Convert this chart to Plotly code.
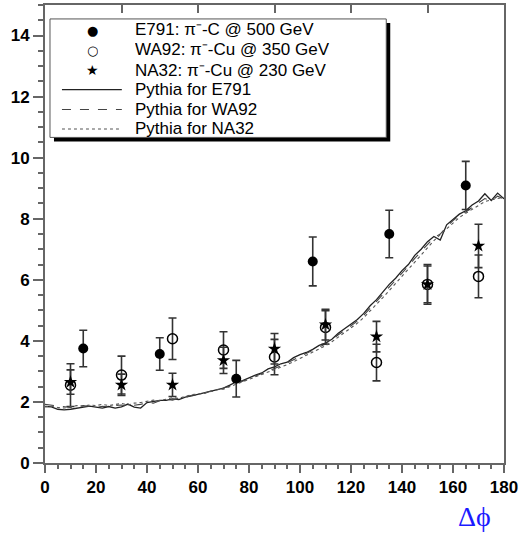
import numpy as np
import plotly.graph_objects as go

# ---- data points ----
e791_x = [15, 45, 75, 105, 135, 165]
e791_y = [3.75, 3.57, 2.76, 6.60, 7.50, 9.09]
e791_err = [0.60, 0.53, 0.60, 0.80, 0.78, 0.79]

wa92_x = [10, 30, 50, 70, 90, 110, 130, 150, 170]
wa92_y = [2.55, 2.88, 4.07, 3.70, 3.47, 4.44, 3.29, 5.85, 6.11]
wa92_err = [0.70, 0.62, 0.68, 0.60, 0.58, 0.55, 0.60, 0.65, 0.70]

na32_x = [10, 30, 50, 70, 90, 110, 130, 150, 170]
na32_y = [2.65, 2.56, 2.56, 3.36, 3.74, 4.53, 4.14, 5.85, 7.11]
na32_err = [0.40, 0.35, 0.38, 0.43, 0.50, 0.50, 0.50, 0.60, 0.71]

# ---- Pythia curves (read every 2.5 units of delta phi) ----
pyth_x = list(np.arange(0, 180.01, 2.5))
pyth_e791 = [1.85, 1.84, 1.76, 1.74, 1.76, 1.80, 1.82, 1.86, 1.83, 1.80, 1.85, 1.80, 1.84,
             1.93, 1.83, 1.80, 1.98, 2.02, 2.05, 2.05, 2.10, 2.08, 2.16, 2.20, 2.25, 2.30,
             2.33, 2.38, 2.45, 2.55, 2.66, 2.70, 2.80, 2.88, 2.95, 3.08, 3.15, 3.25, 3.30,
             3.45, 3.55, 3.62, 3.72, 3.85, 3.93, 4.05, 4.25, 4.40, 4.52, 4.70, 4.90, 5.15,
             5.35, 5.60, 5.85, 6.05, 6.30, 6.50, 6.80, 7.00, 7.25, 7.42, 7.30, 7.80, 7.98,
             8.15, 8.26, 8.45, 8.58, 8.82, 8.60, 8.84, 8.65]
pyth_wa92 = [1.92, 1.90, 1.88, 1.84, 1.82, 1.84, 1.88, 1.85, 1.82, 1.86, 1.84, 1.88, 1.90,
             1.86, 1.88, 1.92, 1.98, 1.96, 2.04, 2.08, 2.06, 2.12, 2.15, 2.22, 2.22, 2.30,
             2.36, 2.35, 2.46, 2.52, 2.62, 2.68, 2.76, 2.84, 2.92, 3.02, 3.10, 3.18, 3.28,
             3.38, 3.50, 3.58, 3.68, 3.80, 3.90, 4.02, 4.20, 4.34, 4.48, 4.65, 4.84, 5.06,
             5.28, 5.52, 5.76, 5.98, 6.22, 6.45, 6.70, 6.92, 7.15, 7.38, 7.50, 7.74, 7.94,
             8.10, 8.22, 8.38, 8.52, 8.66, 8.58, 8.74, 8.64]
pyth_na32 = [1.84, 1.86, 1.82, 1.80, 1.84, 1.88, 1.86, 1.90, 1.88, 1.92, 1.88, 1.92, 1.95,
             1.90, 1.96, 1.98, 2.02, 2.06, 2.04, 2.10, 2.14, 2.12, 2.18, 2.24, 2.26, 2.28,
             2.34, 2.40, 2.42, 2.50, 2.58, 2.64, 2.72, 2.80, 2.88, 2.96, 3.04, 3.12, 3.22,
             3.32, 3.42, 3.52, 3.62, 3.72, 3.84, 3.97, 4.12, 4.27, 4.42, 4.58, 4.76, 4.97,
             5.18, 5.42, 5.65, 5.88, 6.12, 6.35, 6.60, 6.82, 7.05, 7.28, 7.48, 7.66, 7.86,
             8.04, 8.18, 8.30, 8.44, 8.56, 8.62, 8.66, 8.70]

names = ["E791: π⁻-C @ 500 GeV", "WA92: π⁻-Cu @ 350 GeV",
         "NA32: π⁻-Cu @ 230 GeV", "Pythia for E791", "Pythia for WA92",
         "Pythia for NA32"]
legend_glyphs = ["●", "○", "★"]

ecol = "#333333"
fig = go.Figure()

fig.add_trace(go.Scatter(x=pyth_x, y=pyth_e791, mode="lines", name=names[3],
                         line=dict(color="#222222", width=1.3)))
fig.add_trace(go.Scatter(x=pyth_x, y=pyth_wa92, mode="lines", name=names[4],
                         line=dict(color="#444444", width=1.1, dash="dash")))
fig.add_trace(go.Scatter(x=pyth_x, y=pyth_na32, mode="lines", name=names[5],
                         line=dict(color="#555555", width=1.1, dash="dot"), xaxis="x2"))

fig.add_trace(go.Scatter(x=wa92_x, y=wa92_y, mode="markers", name=names[1],
                         marker=dict(symbol="circle-open", size=10, color="black",
                                     line=dict(width=1.5, color="black")),
                         error_y=dict(type="data", array=wa92_err, color=ecol,
                                      thickness=1.6, width=4)))
fig.add_trace(go.Scatter(x=na32_x, y=na32_y, mode="markers", name=names[2],
                         marker=dict(symbol="star", size=10, color="black"),
                         error_y=dict(type="data", array=na32_err, color=ecol,
                                      thickness=1.6, width=4)))
fig.add_trace(go.Scatter(x=e791_x, y=e791_y, mode="markers", name=names[0],
                         marker=dict(symbol="circle", size=10, color="black"),
                         error_y=dict(type="data", array=e791_err, color=ecol,
                                      thickness=1.6, width=4)))

tickfont = dict(family="Liberation Sans, Arial", size=17, color="black", weight="bold")
axcol = "#666666"

# ---- legend drawn as a framed box (paper coordinates of the plot area) ----
L, T, Wd, Ht = 45, 3, 460, 460          # plot area in px (for the legend box only)
def px(xp):
    return (xp - L) / Wd
def py(yp):
    return (T + Ht - yp) / Ht

shapes = [
    dict(type="rect", xref="paper", yref="paper", x0=px(54), x1=px(391), y0=py(140), y1=py(21),
         fillcolor="black", line=dict(width=0), layer="above"),
    dict(type="rect", xref="paper", yref="paper", x0=px(50), x1=px(387), y0=py(136), y1=py(17),
         fillcolor="white", line=dict(color="#555555", width=1), layer="above"),
]
row_y = [28, 48, 68.5, 88, 108, 127.5]
line_styles = [dict(color="#222222", width=1.3), dict(color="#444444", width=1.1, dash="dash"),
               dict(color="#555555", width=1.1, dash="dot")]
for i in range(3):
    shapes.append(dict(type="line", xref="paper", yref="paper", x0=px(62), x1=px(122),
                       y0=py(row_y[3 + i]), y1=py(row_y[3 + i]), line=line_styles[i],
                       layer="above"))

annotations = []
for i, nm in enumerate(names):
    annotations.append(dict(text=nm, xref="paper", yref="paper", x=px(134), y=py(row_y[i]),
                            xanchor="left", yanchor="middle", showarrow=False,
                            height=17, valign="middle", borderpad=0,
                            font=dict(family="Liberation Sans, Arial", size=17, color="black")))
for i, g in enumerate(legend_glyphs):
    annotations.append(dict(text=g, xref="paper", yref="paper", x=px(93), y=py(row_y[i]),
                            xanchor="center", yanchor="middle", showarrow=False,
                            height=16, valign="middle", borderpad=0,
                            font=dict(family="DejaVu Sans", size=14 if i == 2 else 13,
                                      color="black")))
annotations.append(dict(text="Δϕ", xref="paper", yref="paper", x=0.935, y=-0.117,
                        xanchor="center", yanchor="middle", showarrow=False,
                        font=dict(family="Liberation Serif, Times New Roman", size=28,
                                  color="#1a1aff")))

fig.update_layout(
    width=521, height=534,
    margin=dict(l=45, r=16, t=3, b=71),
    paper_bgcolor="white", plot_bgcolor="white",
    showlegend=False,
    xaxis=dict(range=[0, 180], showgrid=False, zeroline=False, showline=True,
               linecolor=axcol, linewidth=2, mirror=True,
               ticks="outside", ticklen=8, tickwidth=2, tickcolor=axcol,
               tick0=0, dtick=20, tickfont=tickfont,
               minor=dict(ticks="outside", ticklen=4, tickwidth=1.5, tickcolor=axcol,
                          dtick=5, showgrid=False)),
    xaxis2=dict(range=[0, 180], overlaying="x", side="top", anchor="y",
                showgrid=False, zeroline=False, showline=False,
                ticks="inside", ticklen=8, tickwidth=1.5, tickcolor=axcol,
                tick0=0, dtick=30, showticklabels=False),
    yaxis=dict(range=[0, 15], showgrid=False, zeroline=False, showline=True,
               linecolor=axcol, linewidth=2, mirror=True,
               ticks="outside", ticklen=10, tickwidth=2, tickcolor=axcol,
               tick0=0, dtick=2, tickfont=tickfont,
               minor=dict(ticks="outside", ticklen=5, tickwidth=1.5, tickcolor=axcol,
                          dtick=0.5, showgrid=False)),
    shapes=shapes,
    annotations=annotations,
)

fig.write_html("out.html")
